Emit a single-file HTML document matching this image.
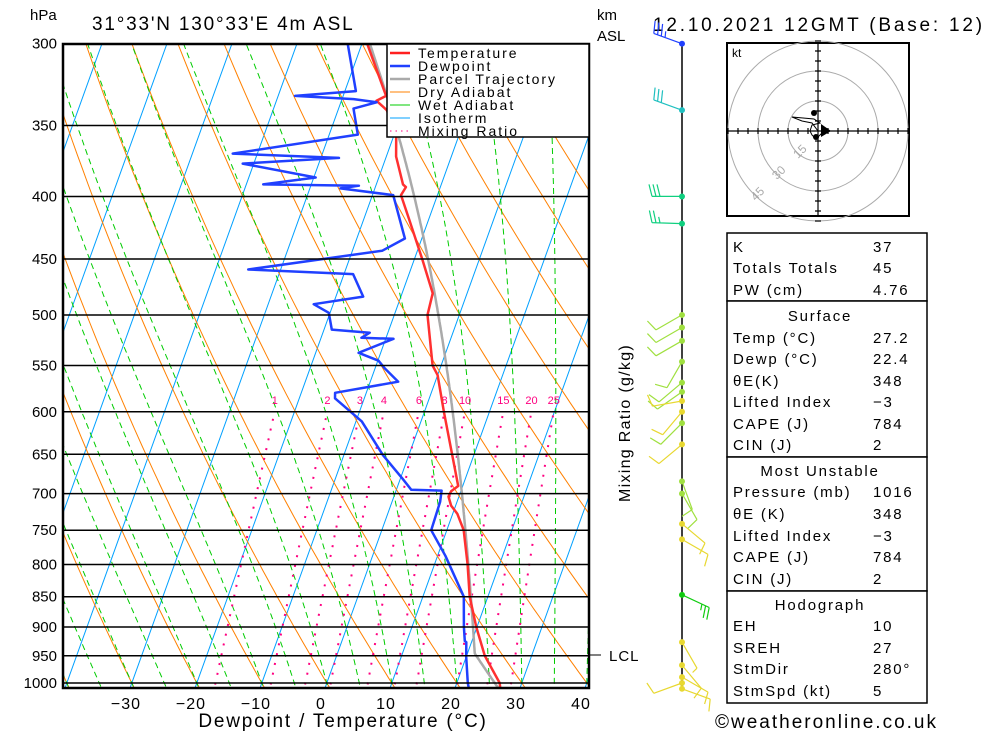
<!DOCTYPE html>
<html><head><meta charset="utf-8">
<style>
html,body{margin:0;padding:0;background:#fff;overflow:hidden;}
svg{display:block;font-family:"Liberation Sans",sans-serif;}
text{fill:#000;}
</style></head>
<body>
<svg id="chart" width="1000" height="733" viewBox="0 0 1000 733" xmlns="http://www.w3.org/2000/svg">
<defs><clipPath id="plotclip"><rect x="63" y="44" width="526" height="644"/></clipPath></defs>
<rect x="0" y="0" width="1000" height="733" fill="#fff"/>
<text x="30" y="20" font-size="15">hPa</text>
<text x="92" y="30" font-size="19" letter-spacing="1.8">31°33'N 130°33'E 4m ASL</text>
<text x="597" y="20" font-size="15">km</text>
<text x="597" y="41" font-size="15">ASL</text>
<text x="653" y="31" font-size="19" letter-spacing="2.8">12.10.2021 12GMT (Base: 12)</text>
<g id="plot" clip-path="url(#plotclip)"></g>
<g id="isobars"></g>
<g id="ylabels"></g>
<g id="xlabels"></g>
<rect x="63" y="44" width="526" height="644" fill="none" stroke="#000" stroke-width="2.5"/>
<text x="343" y="727" font-size="19" text-anchor="middle" letter-spacing="1.8">Dewpoint / Temperature (°C)</text>
<text transform="translate(630,423) rotate(-90)" font-size="16" text-anchor="middle" letter-spacing="1.3">Mixing Ratio (g/kg)</text>
<line x1="589" y1="655" x2="601" y2="655" stroke="#000" stroke-width="1"/>
<text x="609" y="661" font-size="15" letter-spacing="1">LCL</text>
<line x1="682" y1="44" x2="682" y2="689" stroke="#000" stroke-width="1.5"/>
<g id="barbs"></g>
<g id="legend"></g>
<g id="hodo"></g>
<g id="table"></g>
<text x="715" y="728" font-size="19" letter-spacing="2">©weatheronline.co.uk</text>
</svg>
<script>
// ---- data ----
const pressureTicks = [300,350,400,450,500,550,600,650,700,750,800,850,900,950,1000];
const tempTicks = [-30,-20,-10,0,10,20,30,40];
const tempP = [1016,1000,950,900,850,800,750,727,716,704,697,690,600,560,550,500,480,450,417,399,393,391,371,356,340,334,331,300];
const tempT = [27.2,26.6,22.8,19.9,17.2,15.1,12.6,10.7,9.3,8.4,8.5,9.3,3.0,0.0,-1.3,-4.9,-5.3,-8.8,-13.1,-15.6,-15.3,-15.9,-18.5,-19.7,-22.5,-24.6,-23.4,-29.2];
const dewP = [1016,1000,952,926,924,900,850,787,750,711,696,695,679,651,611,585,579,567,553,545,537,523,522,517,514,498,490,483,463,459,443,433,399,394,392,391,386,376,372,369,356,339,335,333,331,328,300];
const dewT = [22.4,21.7,20.0,19.2,18.9,18.0,16.3,11.2,7.6,7.4,7.0,2.3,0.1,-4.0,-9.1,-14.5,-14.8,-5.7,-8.5,-9.9,-13.4,-8.8,-13.8,-12.8,-18.8,-20.2,-23.0,-15.8,-18.6,-35.0,-15.4,-12.6,-16.8,-25.3,-22.6,-37.4,-29.7,-41.7,-27.2,-43.8,-25.6,-27.7,-24.5,-28.2,-37.4,-28.3,-32.2];
const surfaceP = 1016, surfaceT = 27.2, surfaceTd = 22.4;
const isothermValues = [-120,-110,-100,-90,-80,-70,-60,-50,-40,-30,-20,-10,0,10,20,30,40];
const dryAdiabatValues = [-40,-30,-20,-10,0,10,20,30,40,50,60,70,80,90,100,110,120,130,140,150,160,170,180,190,200];
const wetAdiabatValues = [-40,-35,-30,-25,-20,-15,-10,-5,0,5,10,15,20,25,30,35,40,45];
const mixingRatios = [1,2,3,4,6,8,10,15,20,25];
const mixingLabels = ["1","2","3","4","6","8","10","15","20","25"];
const windP = [300,340,400,421,500,512,525,546,568,578,588,600,613,638,684,700,741,763,847,926,967,989,1000,1011];
const windDir = [290,290,270,272,240,240,240,210,230,235,260,220,225,230,160,150,130,120,115,150,140,120,250,110];
const windSpd = [35,30,30,25,10,10,10,10,10,10,10,10,10,10,10,10,10,10,25,5,10,10,10,10];
const windColor = ["#2040ff","#20c0c0","#10d080","#10d080","#a0e040","#a0e040","#a0e040","#a0e040","#a0e040","#a0e040","#e8d830","#e8d830","#a0e040","#e8d830","#a0e040","#a0e040","#e8d830","#e8d830","#10cc10","#e8d830","#e8d830","#e8d830","#e8d830","#e8d830"];
const hodoU = [0,-3,-8,-13,-2,1,-3,-4,-3,-2,0,3];
const hodoV = [0,4,5,7,6,4,3,0,-2,-3,-3,0];
const legendNames = ["Temperature","Dewpoint","Parcel Trajectory","Dry Adiabat","Wet Adiabat","Isotherm","Mixing Ratio"];
const legendColors = ["#ff2020","#2040ff","#aaaaaa","#ff8000","#00cc00","#00a0ff","#ff0080"];
const tableRows = [
 ["K","37"],["Totals Totals","45"],["PW (cm)","4.76"],
 ["#Surface",""],["Temp (°C)","27.2"],["Dewp (°C)","22.4"],["θE(K)","348"],["Lifted Index","−3"],["CAPE (J)","784"],["CIN (J)","2"],
 ["#Most Unstable",""],["Pressure (mb)","1016"],["θE (K)","348"],["Lifted Index","−3"],["CAPE (J)","784"],["CIN (J)","2"],
 ["#Hodograph",""],["EH","10"],["SREH","27"],["StmDir","280°"],["StmSpd (kt)","5"]];

// ---- axes ----
const NS="http://www.w3.org/2000/svg";
const Y0=683, KP=531, XB=688, X0=325, PX=6.5, SK=0.36;
function yP(p){return Y0+KP*Math.log(p/1000);}
function xT(t,y){return X0+PX*t+SK*(XB-y);}
function mk(tag,attrs,parent){const e=document.createElementNS(NS,tag);for(const k in attrs)e.setAttribute(k,attrs[k]);parent.appendChild(e);return e;}
function pathFrom(ps,ts){let d="";for(let i=0;i<ps.length;i++){const y=yP(ps[i]);d+=(i?"L":"M")+xT(ts[i],y).toFixed(1)+","+y.toFixed(1);}return d;}
const plot=document.getElementById('plot');
function es(t){return 6.112*Math.exp(17.67*t/(t+243.5));}
function rs(t,p){const e=es(t);return 0.622*e/(p-e);}
function moistStep(t,p,dp){const T=t+273.15,r=rs(t,p),Lv=2.5e6,Rd=287,cp=1005;
 const g=(Rd*T+Lv*r)/(p*(cp+Lv*Lv*r*0.622/(Rd*T*T)));return t+g*dp;}
function moistLine(t0,p0,p1){const ps=[p0],ts=[t0];let t=t0,p=p0;const dp=p1<p0?-2:2;
 while((dp<0&&p>p1)||(dp>0&&p<p1)){t=moistStep(t,p,dp);p+=dp;ps.push(p);ts.push(t);}return [ps,ts];}

isothermValues.forEach(v=>{
 const l=mk('line',{x1:xT(v,yP(1060)),y1:yP(1060),x2:xT(v,yP(290)),y2:yP(290),stroke:"#00a0ff","stroke-width":1},plot);
 
 
});
dryAdiabatValues.forEach(v=>{
 const ps=[],ts=[];for(let p=1060;p>=290;p-=10){ps.push(p);ts.push((v+273.15)*Math.pow(p/1000,0.286)-273.15);}
 const e=mk('path',{d:pathFrom(ps,ts),fill:"none",stroke:"#ff8000","stroke-width":1},plot);
 
 
});
wetAdiabatValues.forEach(v=>{
 const up=moistLine(v,1000,290),dn=moistLine(v,1000,1060);
 const ps=dn[0].slice().reverse().concat(up[0].slice(1)),ts=dn[1].slice().reverse().concat(up[1].slice(1));
 const e=mk('path',{d:pathFrom(ps,ts),fill:"none",stroke:"#00cc00","stroke-width":1,"stroke-dasharray":"6,4"},plot);
 
 
});
function tdFromW(w,p){const e=w*p/(622+w);const a=Math.log(e/6.112);return 243.5*a/(17.67-a);}
mixingRatios.forEach((w,i)=>{
 const ps=[],ts=[];for(let p=1060;p>=600;p-=10){ps.push(p);ts.push(tdFromW(w,p));}
 const e=mk('path',{d:pathFrom(ps,ts),fill:"none",stroke:"#ff0080","stroke-width":2,"stroke-dasharray":"2,8"},plot);
 
 
 const y=yP(600)-6;
 const t=mk('text',{x:xT(tdFromW(w,600),y)-2,y:y-2,"font-size":11,"text-anchor":"middle",fill:"#ff0080"},plot);
 t.style.fill="#ff0080";t.textContent=mixingLabels[i];
 
 
});
(function(){
 const th=(surfaceT+273.15)*Math.pow(1000/surfaceP,0.286);
 const wS=rs(surfaceTd,surfaceP);
 const ps=[],ts=[];let p=surfaceP,t=surfaceT;
 while(p>300){t=th*Math.pow(p/1000,0.286)-273.15;ps.push(p);ts.push(t);if(rs(t,p)<=wS)break;p-=2;}
 const m=moistLine(t,p,300);
 const e=mk('path',{d:pathFrom(ps.concat(m[0].slice(1)),ts.concat(m[1].slice(1))),fill:"none",stroke:"#aaaaaa","stroke-width":2.5},plot);
 
 
})();
const tl=mk('path',{d:pathFrom(tempP,tempT),fill:"none",stroke:"#ff3030","stroke-width":2.5,"stroke-linejoin":"round"},plot);


const dl=mk('path',{d:pathFrom(dewP,dewT),fill:"none",stroke:"#2040ff","stroke-width":2.5,"stroke-linejoin":"round"},plot);



const isoG=document.getElementById('isobars'),ylG=document.getElementById('ylabels');
pressureTicks.forEach(p=>{
 const y=yP(p);
 const l=mk('line',{x1:63,y1:y,x2:589,y2:y,stroke:"#000","stroke-width":1.5},isoG);
 
 
 const t=mk('text',{x:57,y:y+5,"font-size":15,"text-anchor":"end"},ylG);t.textContent=p;
 
 
});
const xlG=document.getElementById('xlabels');
tempTicks.forEach(v=>{
 const t=mk('text',{x:xT(v,XB)-4,y:709,"font-size":16,"text-anchor":"middle","letter-spacing":"1"},xlG);t.textContent=(v<0?"−":"")+Math.abs(v);
 
 
});

const lg=document.getElementById('legend');
const lb=mk('rect',{x:387,y:44,width:202,height:93,fill:"#fff",stroke:"#000","stroke-width":1.5},lg);


legendNames.forEach((n,i)=>{
 const y=53+i*13;
 const ln=mk('line',{x1:390,y1:y,x2:410,y2:y,stroke:legendColors[i],"stroke-width":i<3?2.5:1},lg);
 if(i==6)ln.setAttribute('stroke-dasharray','1.5,4');
 
 
 const t=mk('text',{x:418,y:y+5,"font-size":14,"letter-spacing":"2"},lg);t.textContent=n;
 
 
});

const bg=document.getElementById('barbs');
windP.forEach((p,i)=>{
 const y=Math.min(yP(p),689),x=682,c=windColor[i];
 const d=windDir[i]*Math.PI/180,ux=Math.sin(d),uy=-Math.cos(d),L=30;
 const ex=x+ux*L,ey=y+uy*L;
 let dd="M"+x+","+y.toFixed(1)+"L"+ex.toFixed(1)+","+ey.toFixed(1);
 let s=windSpd[i],k=0;const fx=-uy,fy=ux;
 while(s>=10){const bx=ex-ux*k*4,by=ey-uy*k*4;dd+="M"+bx.toFixed(1)+","+by.toFixed(1)+"l"+(fx*12+ux*3).toFixed(1)+","+(fy*12+uy*3).toFixed(1);s-=10;k++;}
 if(s>=5){const bx=ex-ux*k*4,by=ey-uy*k*4;dd+="M"+bx.toFixed(1)+","+by.toFixed(1)+"l"+(fx*6+ux*1.5).toFixed(1)+","+(fy*6+uy*1.5).toFixed(1);}
 const e=mk('path',{d:dd,fill:"none",stroke:c,"stroke-width":1.2},bg);
 
 
 const dot=mk('circle',{cx:x,cy:y,r:3,fill:c},bg);
 
 
});

const hg=document.getElementById('hodo');const cx=818,cy=131,ks=2;
const hb=mk('rect',{x:727,y:43,width:182,height:173,fill:"#fff",stroke:"#000","stroke-width":2},hg);


[15,30,45].forEach(r=>{
 const c=mk('circle',{cx:cx,cy:cy,r:r*ks,fill:"none",stroke:"#aaa","stroke-width":1},hg);
 
 
 const tx=cx-Math.cos(Math.PI/4)*r*ks+6,ty=cy+Math.sin(Math.PI/4)*r*ks+2;
 const t=mk('text',{x:tx,y:ty,"font-size":12,fill:"#aaa",transform:"rotate(-45 "+tx+" "+ty+")","text-anchor":"middle"},hg);
 t.style.fill="#aaa";t.textContent=r;
 
 
});
let ax="M727,"+cy+"H909M"+cx+",43V216";
for(let k=-9;k<=9;k++){if(k==0)continue;ax+="M"+(cx+k*10)+","+(cy-3)+"v6M"+(cx-3)+","+(cy+k*10)+"h6";}
const axp=mk('path',{d:ax,stroke:"#000","stroke-width":1.2,fill:"none"},hg);


const kt=mk('text',{x:732,y:57,"font-size":12},hg);kt.textContent="kt";


let hd="";hodoU.forEach((u,i)=>{hd+=(i?"L":"M")+(cx+u*ks)+","+(cy-hodoV[i]*ks);});
const hp=mk('path',{d:hd,fill:"none",stroke:"#000","stroke-width":1},hg);


[[-2,9],[-1,-3]].forEach(q=>{const c=mk('circle',{cx:cx+q[0]*ks,cy:cy-q[1]*ks,r:3,fill:"#000"},hg);
 
 });
const tri=mk('path',{d:"M"+(cx+3)+","+(cy-7)+"l0,13l10,-6z",fill:"#000"},hg);



const tg=document.getElementById('table');
const boxes=[[233,301],[301,457],[457,591],[591,703]];
boxes.forEach(b=>{const r=mk('rect',{x:727,y:b[0],width:200,height:b[1]-b[0],fill:"#fff",stroke:"#000","stroke-width":1.5},tg);
 
 });
const rowY=[252,273,295,321,343,364,386,407,429,450,476,497,519,541,562,584,610,631,653,674,696];
tableRows.forEach((r,i)=>{
 if(r[0][0]=="#"){const t=mk('text',{x:820,y:rowY[i],"font-size":15,"text-anchor":"middle","letter-spacing":"1.8"},tg);t.textContent=r[0].slice(1);
  
  return;}
 const a=mk('text',{x:733,y:rowY[i],"font-size":15,"letter-spacing":"1.8"},tg);a.textContent=r[0];
 
 
 const v=mk('text',{x:873,y:rowY[i],"font-size":15,"letter-spacing":"1.8"},tg);v.textContent=r[1];
 
 
});
</script>
</body></html>
